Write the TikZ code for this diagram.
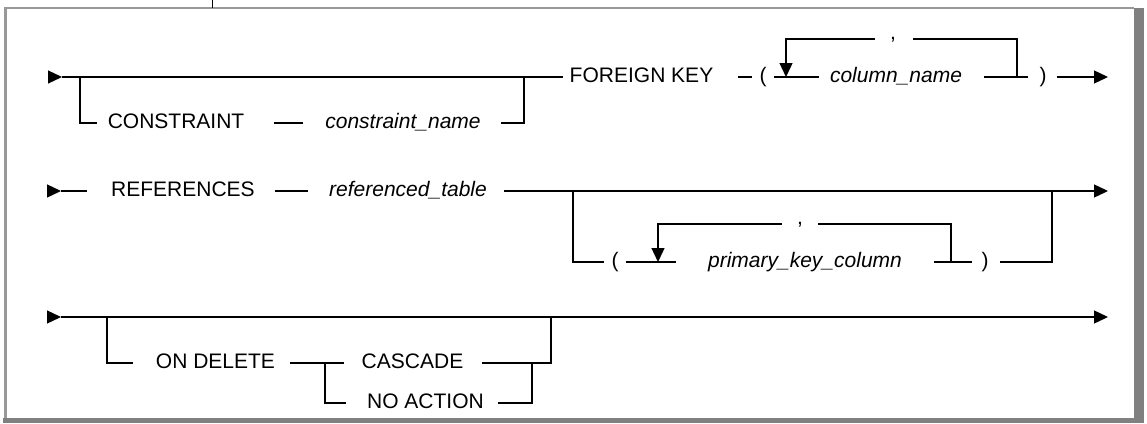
\documentclass[tikz,border=0pt]{standalone}
\usepackage{fontspec}
\setmainfont{Liberation Sans}
\usetikzlibrary{arrows.meta}
\definecolor{framedark}{RGB}{128,128,128}
\definecolor{framelight}{RGB}{152,152,152}
\tikzstyle{kw} = [inner sep=0pt, text height=15.5pt, text depth=4.5pt, font=\fontsize{21}{24}\selectfont]
\tikzstyle{var} = [kw, font=\fontsize{21}{24}\selectfont\itshape]
\tikzstyle{sep} = [kw, text height=3pt, text depth=3pt]
\tikzstyle{rail} = [line width=1.3pt]
\tikzstyle{arrow} = [rail, -{Triangle[length=14pt, width=13pt]}]

\begin{document}
\begin{tikzpicture}[x=1pt, y=-1pt]
\useasboundingbox (0,0) rectangle (1147,423);

\fill[framedark] (1134,8) rectangle (1144,423);
\fill[framedark] (3,418) rectangle (1144,423);
\draw[framelight, line width=2.5pt] (5.25,418) -- (5.25,8) -- (1134,8);
\draw[line width=1pt] (212,0) -- (212,8);

% first line
\coordinate (s1) at (48,77);
\coordinate (t1) at (62,77);
\coordinate (b1) at (80,77);
\coordinate (j1) at (524,77);
\coordinate (ll1) at (786,77);
\coordinate (lr1) at (1017,77);
\coordinate (e1) at (1108,77);
\node[kw] (cons) at (176,123) {CONSTRAINT};
\node[var] (cname) at (403,123) {constraint\_name};
\node[kw] (fk) at (641.5,77) {FOREIGN KEY};
\node[kw] (lp1) at (763,77) {(};
\node[var] (col) at (896,77) {column\_name};
\node[sep] (comma1) at (893,39) {,};
\node[kw] (rp1) at (1043,77) {)};

\draw[arrow] (s1) -- (t1);
\draw[rail] (t1) -- ([xshift=-7pt]fk.west);
\draw[rail] (b1) |- ([xshift=-11pt]cons.west);
\draw[rail] ([xshift=30pt]cons.east) -- ([xshift=-22pt]cname.west);
\draw[rail] ([xshift=20pt]cname.east) -| (j1);
\draw[rail] ([xshift=25pt]fk.east) -- ([xshift=-7.5pt]lp1.west);
\draw[rail] ([xshift=7.5pt]lp1.east) -- ([xshift=-11pt]col.west);
\draw[rail] ([xshift=22pt]col.east) -- ([xshift=-11.5pt]rp1.west);
\draw[rail] (lr1) |- ([xshift=17pt]comma1.east);
\draw[arrow] ([xshift=-15pt]comma1.west) -| (ll1);
\draw[arrow] ([xshift=10.5pt]rp1.east) -- (e1);

% second line
\coordinate (s2) at (48,191);
\coordinate (t2) at (61,191);
\coordinate (b2) at (573,191);
\coordinate (j2) at (1052,191);
\coordinate (e2) at (1108,191);
\coordinate (ll2) at (658,262);
\coordinate (lr2) at (951,262);
\node[kw] (refs) at (183,191) {REFERENCES};
\node[var] (rtab) at (408,191) {referenced\_table};
\node[kw] (lp2) at (615,262) {(};
\node[var] (pkc) at (805,262) {primary\_key\_column};
\node[sep] (comma2) at (800,224) {,};
\node[kw] (rp2) at (985,262) {)};

\draw[arrow] (s2) -- (t2);
\draw[rail] (t2) -- ([xshift=-24pt]refs.west);
\draw[rail] ([xshift=20pt]refs.east) -- ([xshift=-21pt]rtab.west);
\draw[arrow] ([xshift=17pt]rtab.east) -- (e2);
\draw[rail] (b2) |- ([xshift=-7pt]lp2.west);
\draw[rail] ([xshift=7pt]lp2.east) -- ([xshift=-32pt]pkc.west);
\draw[rail] (lr2) |- ([xshift=15pt]comma2.east);
\draw[arrow] ([xshift=-15pt]comma2.west) -| (ll2);
\draw[rail] ([xshift=32pt]pkc.east) -- ([xshift=-9.5pt]rp2.west);
\draw[rail] ([xshift=11.5pt]rp2.east) -| (j2);

% third line
\coordinate (s3) at (48,317);
\coordinate (t3) at (61,317);
\coordinate (b3) at (107,317);
\coordinate (b4) at (325,363);
\coordinate (j3) at (551,317);
\coordinate (j4) at (532,363);
\coordinate (e3) at (1108,317);
\node[kw] (ondel) at (215.5,363) {ON DELETE};
\node[kw] (casc) at (412.5,363) {CASCADE};
\node[kw] (noact) at (425.5,403) {NO ACTION};

\draw[arrow] (s3) -- (t3);
\draw[arrow] (t3) -- (e3);
\draw[rail] (b3) |- ([xshift=-23pt]ondel.west);
\draw[rail] ([xshift=15pt]ondel.east) -- ([xshift=-18pt]casc.west);
\draw[rail] (b4) |- ([xshift=-21pt]noact.west);
\draw[rail] ([xshift=19pt]casc.east) -| (j3);
\draw[rail] ([xshift=14pt]noact.east) -| (j4);

\end{tikzpicture}
\end{document}
